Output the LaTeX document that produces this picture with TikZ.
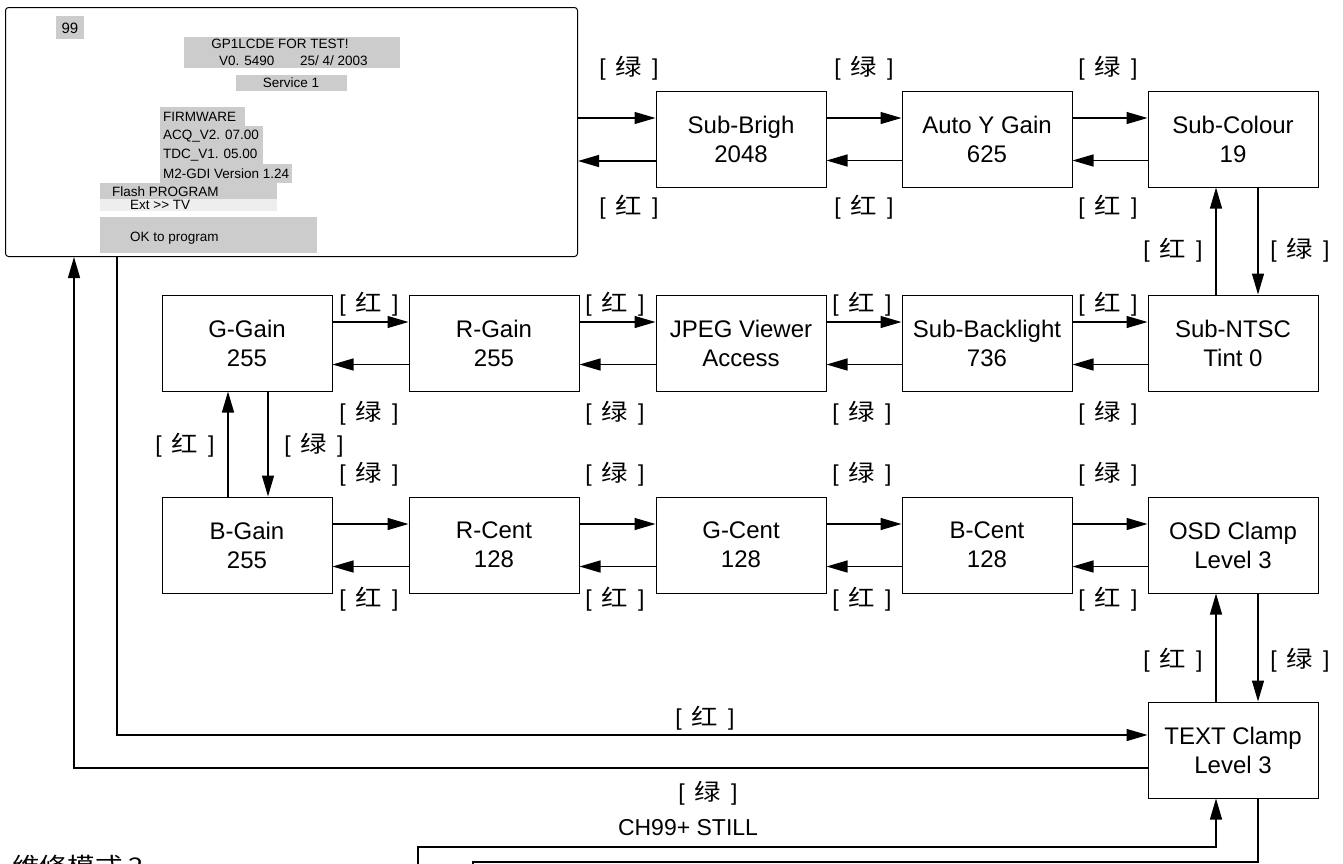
\documentclass[tikz,border=0pt]{standalone}
\usepackage{fontspec}
\setmainfont{Liberation Sans}
\newfontfamily\cjk{Noto Sans CJK SC}
\usepackage{graphicx}
\usetikzlibrary{arrows.meta}
\definecolor{scrgray}{RGB}{204,204,204}
\definecolor{scrlight}{RGB}{238,238,238}
\newcommand{\lb}[1]{[\hspace{10pt}\scalebox{1.15}[1]{\cjk #1}\hspace{10pt}]}
\begin{document}
\begin{tikzpicture}[x=1pt,y=-1pt,
  box/.style={draw,line width=1pt,minimum width=170pt,minimum height=96pt,align=center,inner sep=0pt,font=\fontsize{24}{29}\selectfont},
  arr/.style={line width=1.3pt,-{Triangle[length=21pt,width=12pt]}},
  ln/.style={line width=1.3pt},
  lab/.style={inner sep=0pt,font=\fontsize{23}{26}\selectfont},
  st/.style={inner sep=0pt,anchor=west,font=\fontsize{13.5}{15}\selectfont},
  gfill/.style={fill=scrgray}]
\useasboundingbox (0,0) rectangle (1343,863);
\clip (0,0) rectangle (1343,863);

% screen
\node[draw,rounded corners=3pt,line width=1pt,minimum width=572pt,minimum height=249pt,anchor=north west,inner sep=0pt] (scr) at (5,7) {};
\fill[gfill] (56,16) rectangle (84,39);
\fill[gfill] (184,37) rectangle (400,68);
\fill[gfill] (236,75) rectangle (347,91);
\fill[gfill] (160,107) rectangle (245,126);
\fill[gfill] (160,126) rectangle (263,145);
\fill[gfill] (160,145) rectangle (263,164);
\fill[gfill] (160,164) rectangle (292,183);
\fill[gfill] (100,183) rectangle (277,199);
\fill[scrlight] (100,199) rectangle (277,211);
\fill[gfill] (100,217) rectangle (317,253);
\node[st,anchor=center,font=\fontsize{15}{16}\selectfont] (t99) at (70,28) {99};
\node[st,anchor=center] (tgp) at (280,44) {GP1LCDE FOR TEST!};
\node[st] (tv) at (219,61) {V0. 5490};
\node[st] (tdate) at (300,61) {25/ 4/ 2003};
\node[st,anchor=center] (tsv) at (291,83) {Service 1};
\node[st] (tfw) at (163,117) {FIRMWARE};
\node[st] (tacq) at (163,136) {ACQ\_V2. 07.00};
\node[st] (ttdc) at (163,155) {TDC\_V1. 05.00};
\node[st] (tm2) at (163,174) {M2-GDI Version 1.24};
\node[st] (tfl) at (112,192) {Flash PROGRAM};
\node[st] (text) at (130,205) {Ext {\textgreater}{\textgreater} TV};
\node[st] (tok) at (130,238) {OK to program};

% boxes
\node[box] (sb) at (741,139) {Sub-Brigh\\2048};
\node[box] (ay) at (987,139) {Auto Y Gain\\625};
\node[box] (sc) at (1233,139) {Sub-Colour\\19};
\node[box] (gg) at (247,343) {G-Gain\\255};
\node[box] (rg) at (494,343) {R-Gain\\255};
\node[box] (jp) at (741,343) {JPEG Viewer\\Access};
\node[box] (bl) at (987,343) {Sub-Backlight\\736};
\node[box] (nt) at (1233,343) {Sub-NTSC\\Tint 0};
\node[box] (bg) at (247,545) {B-Gain\\255};
\node[box] (rc) at (494,545) {R-Cent\\128};
\node[box] (gc) at (741,545) {G-Cent\\128};
\node[box] (bc) at (987,545) {B-Cent\\128};
\node[box] (osd) at (1233,545) {OSD Clamp\\Level 3};
\node[box] (tc) at (1233,750) {TEXT Clamp\\Level 3};

% horizontal arrows
\path ([yshift=21pt]sb.west) coordinate (sbF) ([yshift=-22pt]sb.west) coordinate (sbB);
\draw[arr] (scr.east |- sbF) -- (sbF);
\draw[arr] (sbB) -- (scr.east |- sbB);
\foreach \a/\b in {sb/ay,ay/sc,gg/rg,rg/jp,jp/bl,bl/nt,bg/rc,rc/gc,gc/bc,bc/osd}{
  \draw[arr] ([yshift=21pt]\a.east) -- ([yshift=21pt]\b.west);
  \draw[arr] ([yshift=-21.5pt]\b.west) -- ([yshift=-21.5pt]\a.east);
}
% vertical arrows
\draw[arr] ([xshift=-17pt]nt.north) -- ([xshift=-17pt]sc.south);
\draw[arr] ([xshift=25pt]sc.south) -- ([xshift=25pt]nt.north);
\draw[arr] ([xshift=-19pt]bg.north) -- ([xshift=-19pt]gg.south);
\draw[arr] ([xshift=21pt]gg.south) -- ([xshift=21pt]bg.north);
\draw[arr] ([xshift=-17pt]tc.north) -- ([xshift=-17pt]osd.south);
\draw[arr] ([xshift=25pt]osd.south) -- ([xshift=25pt]tc.north);

% long loops
\coordinate (pA) at (117,0);
\coordinate (pB) at (74,0);
\draw[arr] (scr.south -| pA) |- ([yshift=15pt]tc.west);
\draw[arr] ([yshift=-18pt]tc.west) -| (scr.south -| pB);
\coordinate (qA) at (418,880);
\coordinate (qB) at (473,880);
\coordinate (hA) at (0,847);
\coordinate (hB) at (0,862);
\draw[arr] (qA) -- (qA |- hA) -| ([xshift=-17pt]tc.south);
\draw[ln] ([xshift=25pt]tc.south) |- (qB |- hB) -- (qB);

% labels
\node[lab] (l1a) at (629,68) {\lb{绿}};
\node[lab] (l1b) at (864,68) {\lb{绿}};
\node[lab] (l1c) at (1108,68) {\lb{绿}};
\node[lab] (l1d) at (629,207) {\lb{红}};
\node[lab] (l1e) at (864,207) {\lb{红}};
\node[lab] (l1f) at (1108,207) {\lb{红}};
\node[lab] (v1a) at (1173,250) {\lb{红}};
\node[lab] (v1b) at (1300,250) {\lb{绿}};
\foreach \x [count=\i] in {369,615,862,1108}{
  \node[lab] (r2t\i) at (\x,304) {\lb{红}};
  \node[lab] (r2b\i) at (\x,413) {\lb{绿}};
  \node[lab] (r3t\i) at (\x,474) {\lb{绿}};
  \node[lab] (r3b\i) at (\x,599) {\lb{红}};
}
\node[lab] (v2a) at (185,445) {\lb{红}};
\node[lab] (v2b) at (314,445) {\lb{绿}};
\node[lab] (v3a) at (1173,660) {\lb{红}};
\node[lab] (v3b) at (1300,660) {\lb{绿}};
\node[lab] (lA) at (705,718) {\lb{红}};
\node[lab] (lB) at (708,793) {\lb{绿}};
\node[lab] (ch) at (688,828) {CH99+ STILL};
\node[lab,anchor=base west] (mode) at (12,874) {\scalebox{1.2}[1]{\cjk 维修模式 2}};
\end{tikzpicture}
\end{document}
